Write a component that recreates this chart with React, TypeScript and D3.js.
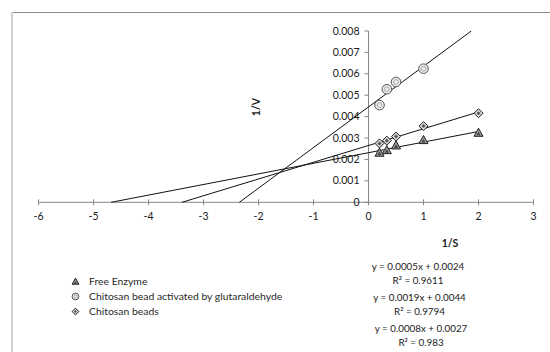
import React from 'react';
import * as d3 from 'd3';

// Lineweaver-Burk data (1/S vs 1/V)
const invS = [0.2, 0.333, 0.5, 1, 2];
const freeEnzyme = [0.00232, 0.00244, 0.00266, 0.00291, 0.00325];
const glutaraldehyde = [0.00454, 0.00528, 0.00562, 0.00624];
const chitosanBeads = [0.00275, 0.00288, 0.00307, 0.00356, 0.00416];

const xTicks = [-6, -5, -4, -3, -2, -1, 0, 1, 2, 3];
const yTicks = [0, 0.001, 0.002, 0.003, 0.004, 0.005, 0.006, 0.007, 0.008];

const legendLabels = ['Free Enzyme', 'Chitosan bead activated by glutaraldehyde', 'Chitosan beads'];
const equations = [
  ['y = 0.0005x + 0.0024', 'R² = 0.9611'],
  ['y = 0.0019x + 0.0044', 'R² = 0.9794'],
  ['y = 0.0008x + 0.0027', 'R² = 0.983'],
];

const W = 550;
const H = 352;
const font = 'Lato, "Open Sans", sans-serif';

const x = d3.scaleLinear().domain([-6, 3]).range([38.6, 533.5]);
const y = d3.scaleLinear().domain([0, 0.008]).range([202.3, 31]);

// least squares fit
function fit(xs: number[], ys: number[]) {
  const mx = d3.mean(xs) as number;
  const my = d3.mean(ys) as number;
  let sxy = 0, sxx = 0;
  xs.forEach((v, i) => { sxy += (v - mx) * (ys[i] - my); sxx += (v - mx) * (v - mx); });
  const m = sxy / sxx;
  return { m, b: my - m * mx };
}

function trend(xs: number[], ys: number[]) {
  const { m, b } = fit(xs, ys);
  const x0 = -b / m; // backward forecast to y = 0
  let x1 = 2;
  if (m * x1 + b > 0.008) x1 = (0.008 - b) / m;
  return { x0, x1, y0: 0, y1: m * x1 + b };
}

const tri = (cx: number, cy: number, s: number) =>
  `M${cx},${cy - s}L${cx + s},${cy + s * 0.8}L${cx - s},${cy + s * 0.8}Z`;
const dia = (cx: number, cy: number, s: number) =>
  `M${cx},${cy - s}L${cx + s},${cy}L${cx},${cy + s}L${cx - s},${cy}Z`;

const Triangle = ({ cx, cy, s }: { cx: number; cy: number; s: number }) => (
  <g>
    <path d={tri(cx, cy, s)} fill="#9a9a9a" stroke="#222" strokeWidth={1} />
    <path d={tri(cx, cy + 1, s * 0.45)} fill="#444" />
  </g>
);
const Circle = ({ cx, cy, s }: { cx: number; cy: number; s: number }) => (
  <g>
    <circle cx={cx} cy={cy} r={s} fill="#ececec" stroke="#555" strokeWidth={1} />
    <circle cx={cx} cy={cy} r={s * 0.5} fill="none" stroke="#999" strokeWidth={0.8} />
  </g>
);
const Diamond = ({ cx, cy, s }: { cx: number; cy: number; s: number }) => (
  <g>
    <path d={dia(cx, cy, s)} fill="#d8d8d8" stroke="#222" strokeWidth={1} />
    <path d={dia(cx, cy, s * 0.45)} fill="#555" />
  </g>
);

export default function App() {
  const lines = [
    trend(invS, freeEnzyme),
    trend(invS.slice(0, glutaraldehyde.length), glutaraldehyde),
    trend(invS, chitosanBeads),
  ];
  const axisColor = '#868686';
  const markers = [Triangle, Circle, Diamond];

  return (
    <svg width={W} height={H} style={{ position: 'absolute', left: 0, top: 0 }}>
      <rect x={0} y={0} width={W} height={H} fill="#fff" />
      {/* chart border */}
      <line x1={12} y1={12.5} x2={W} y2={12.5} stroke="#8c8c8c" strokeWidth={1} />
      <line x1={12} y1={12} x2={12} y2={H} stroke="#d0d0d0" strokeWidth={2} />

      {/* x axis */}
      <line x1={x(-6)} x2={x(3)} y1={y(0)} y2={y(0)} stroke={axisColor} strokeWidth={1} />
      {xTicks.map(t => (
        <g key={t}>
          <line x1={x(t)} x2={x(t)} y1={y(0) - 3} y2={y(0) + 3} stroke={axisColor} />
          <text x={x(t)} y={y(0) + 18} fontSize={10.5} fontFamily={font} textAnchor="middle" fill="#1a1a1a">{t}</text>
        </g>
      ))}

      {/* y axis */}
      <line x1={x(0)} x2={x(0)} y1={y(0)} y2={y(0.008)} stroke={axisColor} strokeWidth={1} />
      {yTicks.map(t => (
        <g key={t}>
          <line x1={x(0) - 4} x2={x(0)} y1={y(t)} y2={y(t)} stroke={axisColor} />
          <text x={x(0) - 9} y={y(t) + 3.6} fontSize={10.5} fontFamily={font} textAnchor="end" fill="#1a1a1a">
            {t === 0 ? '0' : d3.format('.3f')(t)}
          </text>
        </g>
      ))}

      {/* axis titles */}
      <text transform={`translate(${260},${107}) rotate(-90)`} fontSize={10.5} fontWeight="bold" fontFamily={font} textAnchor="middle" fill="#1a1a1a">1/V</text>
      <text x={450} y={247} fontSize={10.5} fontWeight="bold" fontFamily={font} textAnchor="middle" fill="#1a1a1a">1/S</text>

      {/* trendlines */}
      {lines.map((l, i) => (
        <line key={i} x1={x(l.x0)} y1={y(l.y0)} x2={x(l.x1)} y2={y(l.y1)} stroke="#111" strokeWidth={1} />
      ))}

      {/* points */}
      {freeEnzyme.map((v, i) => <Triangle key={'t' + i} cx={x(invS[i])} cy={y(v)} s={4.5} />)}
      {glutaraldehyde.map((v, i) => <Circle key={'c' + i} cx={x(invS[i])} cy={y(v)} s={4.8} />)}
      {chitosanBeads.map((v, i) => <Diamond key={'d' + i} cx={x(invS[i])} cy={y(v)} s={4.5} />)}

      {/* legend */}
      {legendLabels.map((lab, i) => {
        const M = markers[i];
        const cy = 281.5 + i * 15;
        return (
          <g key={lab}>
            <M cx={75.5} cy={cy} s={3.4} />
            <text x={89} y={cy + 3.6} fontSize={10.4} fontFamily={font} fill="#2a2a2a">{lab}</text>
          </g>
        );
      })}

      {/* equations */}
      {equations.map((eq, i) => (
        <g key={i}>
          <text x={418 + i * 1.5} y={270 + i * 31} fontSize={9.8} fontFamily={font} textAnchor="middle" fill="#1a1a1a">{eq[0]}</text>
          <text x={418 + i * 1.5} y={283.5 + i * 31} fontSize={9.8} fontFamily={font} textAnchor="middle" fill="#1a1a1a">{eq[1]}</text>
        </g>
      ))}
    </svg>
  );
}
